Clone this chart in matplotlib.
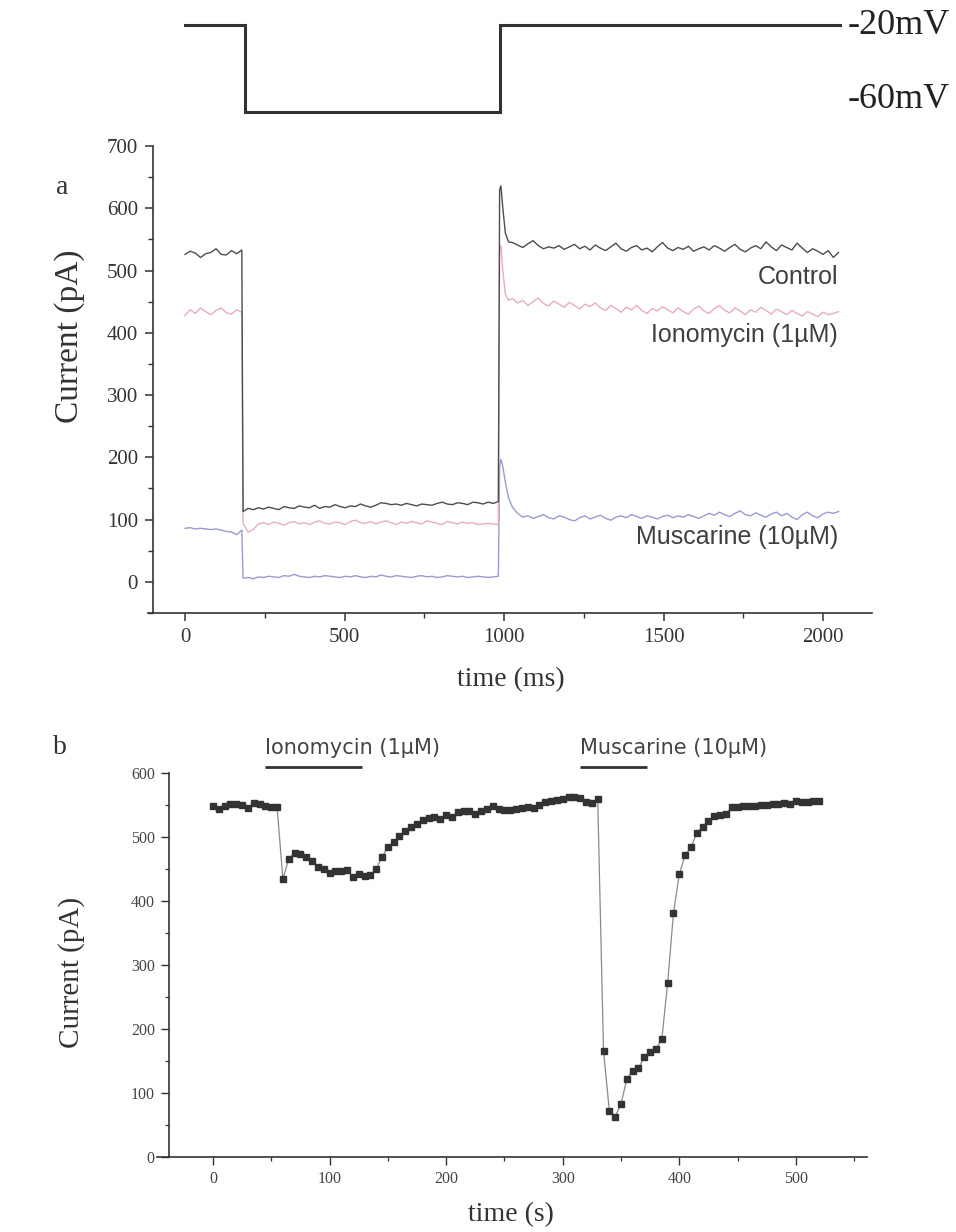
import numpy as np
import matplotlib
matplotlib.use("Agg")
import matplotlib.pyplot as plt
from matplotlib.ticker import MultipleLocator

W, H = 956, 1232
SERIF = "Liberation Serif"
SANS = "Liberation Sans"

# ---------------- voltage protocol ----------------
protocol_t = [0, 188, 188, 987, 987, 2053]
protocol_v = [-20, -20, -60, -60, -20, -20]

# ---------------- panel a: current traces (pA) ----------------
# holding segment before the hyperpolarising step
ctrl_pre = [526, 531, 528, 521, 527, 529, 535, 526, 525, 532, 527, 533]
iono_pre = [428, 437, 431, 440, 434, 429, 436, 440, 432, 430, 437, 433]
musc_pre = [86, 87, 85, 86, 85, 84, 85, 83, 81, 80, 76, 83]

# during the step to -60 mV
ctrl_hyp = [113, 118, 116, 119, 117, 120, 118, 116, 121, 119, 118, 122, 120,
            119, 123, 118, 121, 120, 124, 121, 119, 122, 121, 125, 122, 120,
            123, 127, 126, 124, 125, 123, 126, 124, 122, 125, 124, 123, 126,
            128, 125, 124, 127, 126, 124, 128, 127, 125, 128, 126, 129]
iono_hyp = [94, 80, 84, 93, 95, 92, 96, 94, 91, 95, 97, 93, 95, 92, 96, 98, 94,
            93, 96, 95, 92, 97, 99, 95, 94, 97, 93, 96, 98, 95, 92, 96, 94, 97,
            95, 93, 98, 96, 94, 92, 97, 95, 93, 96, 94, 95, 92, 93, 94, 93, 92]
musc_hyp = [6, 7, 5, 8, 7, 9, 8, 7, 10, 9, 12, 9, 8, 7, 9, 8, 10, 9, 8, 7, 9,
            8, 10, 8, 7, 9, 8, 11, 9, 8, 10, 9, 8, 7, 9, 10, 8, 9, 7, 8, 10, 9,
            8, 9, 7, 8, 9, 8, 7, 8, 9]

# tail transient on return to -20 mV
spike_t = [986, 990, 996, 1004, 1014]
ctrl_spike = [630, 636, 600, 560, 546]
iono_spike = [530, 540, 500, 462, 452]
musc_spike = [186, 197, 185, 160, 135]

# steady state after the step
ctrl_post = [545, 541, 537, 543, 548, 540, 535, 538, 536, 540,
             534, 538, 542, 535, 539, 533, 541, 536, 532, 538,
             544, 535, 531, 537, 540, 533, 536, 530, 538, 545,
             536, 532, 537, 534, 539, 531, 535, 538, 533, 540,
             536, 531, 537, 542, 534, 530, 536, 540, 535, 546,
             538, 532, 541, 537, 533, 544, 536, 529, 535, 531,
             526, 532, 521, 529]
iono_post = [455, 448, 452, 444, 450, 456, 447, 443, 451, 446, 441, 449, 444,
             438, 446, 442, 448, 440, 436, 444, 439, 433, 441, 437, 444, 436,
             431, 439, 435, 442, 437, 432, 440, 434, 430, 438, 443, 435, 431,
             439, 444, 436, 432, 440, 435, 429, 437, 433, 441, 436, 430, 438,
             434, 429, 436, 431, 427, 434, 430, 426, 433, 429, 431, 434]
musc_post = [120, 110, 104, 106, 102, 105, 108, 103, 101, 106, 104, 100, 98,
             103, 106, 101, 104, 107, 102, 99, 104, 106, 103, 108, 105, 102,
             106, 104, 101, 105, 107, 103, 106, 104, 108, 105, 102, 106, 110,
             107, 112, 108, 105, 110, 114, 108, 106, 111, 107, 104, 109, 112,
             106, 110, 104, 100, 108, 112, 106, 103, 109, 112, 110, 113]

trace_labels = ["Control", "Ionomycin (1\u00b5M)", "Muscarine (10\u00b5M)"]
trace_colors = ["#4d4d4d", "#e8adbf", "#999bd0"]
label_y = [490, 396, 72]

# ---------------- panel b: time course ----------------
course_t = np.arange(0, 525, 5)
course_i = [549, 544, 549, 551, 551, 550, 546, 553, 551, 549, 547, 547,
            434, 466, 475, 473, 469, 463, 453, 450, 444, 447, 447, 448, 438,
            442, 439, 440,
            450, 469, 484, 492, 501, 510, 516, 521, 527, 530, 531, 528, 535,
            532, 539, 541, 541, 536, 541, 543, 549, 544, 542, 542, 544, 546,
            547, 546, 550, 554, 556, 558, 559, 563, 563, 561, 555, 553, 560,
            166, 72, 63, 83, 122, 135, 139, 156, 164, 169, 184, 272, 381, 442,
            472, 484, 506, 516, 525, 533, 534, 536, 547, 547, 548, 549, 549,
            550, 550, 552, 552, 553, 552, 556, 555, 554, 556, 557]
drug_names = ["Ionomycin (1\u00b5M)", "Muscarine (10\u00b5M)"]
drug_start = [45, 315]
drug_end = [128, 372]


def frac(x, y):
    return x / W, 1 - y / H


fig = plt.figure(figsize=(W / 100, H / 100), dpi=100)
fig.patch.set_facecolor("white")

# ----- protocol -----
axp = fig.add_axes([148 / W, 1 - 125 / H, 724 / W, 110 / H])
axp.plot(protocol_t, protocol_v, color="#333333", lw=2.2, solid_joinstyle="miter")
axp.set_xlim(-116, 2153)
axp.set_ylim(-66, -15.4)
axp.set_axis_off()
for txt, ypx in [("-20mV", 25), ("-60mV", 100)]:
    fx, fy = frac(848, ypx)
    fig.text(fx, fy, txt, ha="left", va="center", family=SERIF,
             fontsize=26, color="#222222")

# ----- panel a -----
axa = fig.add_axes([148 / W, 1 - 613 / H, 724 / W, 467 / H])
traces = [(ctrl_pre, ctrl_hyp, ctrl_spike, ctrl_post),
          (iono_pre, iono_hyp, iono_spike, iono_post),
          (musc_pre, musc_hyp, musc_spike, musc_post)]
for (pre, hyp, spk, post), col in zip(traces[::-1], trace_colors[::-1]):
    t = np.concatenate([np.linspace(0, 178, len(pre)),
                        np.linspace(182, 982, len(hyp)),
                        np.array(spike_t, dtype=float),
                        np.linspace(1026, 2048, len(post))])
    y = np.concatenate([pre, hyp, spk, post])
    axa.plot(t, y, color=col, lw=1.0)

for txt, yv in zip(trace_labels, label_y):
    axa.text(2047, yv, txt, ha="right", va="center", family=SANS,
             fontsize=18, color="#404040")

axa.set_xlim(-116, 2153)
axa.set_ylim(-50, 700)
axa.spines["top"].set_visible(False)
axa.spines["right"].set_visible(False)
axa.spines["left"].set_position(("data", -100))
for s in ("left", "bottom"):
    axa.spines[s].set_color("#333333")
    axa.spines[s].set_linewidth(1.2)
axa.xaxis.set_major_locator(MultipleLocator(500))
axa.xaxis.set_minor_locator(MultipleLocator(250))
axa.yaxis.set_major_locator(MultipleLocator(100))
axa.yaxis.set_minor_locator(MultipleLocator(50))
axa.tick_params(which="major", direction="out", length=6, width=1.1,
                color="#333333", labelsize=15, labelcolor="#333333", pad=5)
axa.tick_params(which="minor", direction="out", length=3.5, width=1.0,
                color="#333333")
axa.set_yticks(np.arange(0, 701, 100))
for lab in axa.get_xticklabels() + axa.get_yticklabels():
    lab.set_family(SERIF)

fx, fy = frac(70, 336)
fig.text(fx, fy, "Current (pA)", rotation=90, ha="center", va="center",
         family=SERIF, fontsize=24, color="#333333")
fx, fy = frac(511, 680)
fig.text(fx, fy, "time (ms)", ha="center", va="center", family=SERIF,
         fontsize=20, color="#333333")
fx, fy = frac(62, 188)
fig.text(fx, fy, "a", ha="center", va="center", family=SERIF, fontsize=20,
         color="#333333")

# ----- panel b -----
axb = fig.add_axes([157 / W, 1 - 1157 / H, 710 / W, 384 / H])
axb.plot(course_t, course_i, color="#8a8a8a", lw=0.9, marker="s",
         markersize=4.6, markerfacecolor="#333333", markeredgecolor="#333333")
axb.set_xlim(-48, 561)
axb.set_ylim(0, 600)
axb.spines["top"].set_visible(False)
axb.spines["right"].set_visible(False)
axb.spines["left"].set_position(("data", -38))
for s in ("left", "bottom"):
    axb.spines[s].set_color("#333333")
    axb.spines[s].set_linewidth(1.2)
axb.xaxis.set_major_locator(MultipleLocator(100))
axb.xaxis.set_minor_locator(MultipleLocator(50))
axb.yaxis.set_major_locator(MultipleLocator(100))
axb.yaxis.set_minor_locator(MultipleLocator(50))
axb.tick_params(which="major", direction="out", length=6, width=1.0,
                color="#333333", labelsize=11.5, labelcolor="#444444", pad=4)
axb.tick_params(which="minor", direction="out", length=3, width=0.9,
                color="#333333")
axb.set_xticks(np.arange(0, 501, 100))
axb.set_yticks(np.arange(0, 601, 100))
for lab in axb.get_xticklabels() + axb.get_yticklabels():
    lab.set_family(SERIF)

for name, t0, t1 in zip(drug_names, drug_start, drug_end):
    axb.plot([t0, t1], [609, 609], color="#333333", lw=2.0, clip_on=False,
             solid_capstyle="butt")
    axb.text(t0, 639, name, ha="left", va="center", family="DejaVu Sans",
             fontsize=15, color="#444444", clip_on=False)

fx, fy = frac(72, 972)
fig.text(fx, fy, "Current (pA)", rotation=90, ha="center", va="center",
         family=SERIF, fontsize=21, color="#333333")
fx, fy = frac(511, 1215)
fig.text(fx, fy, "time (s)", ha="center", va="center", family=SERIF,
         fontsize=20, color="#333333")
fx, fy = frac(60, 748)
fig.text(fx, fy, "b", ha="center", va="center", family=SERIF, fontsize=20,
         color="#333333")

fig.savefig("out.png", dpi=100)
